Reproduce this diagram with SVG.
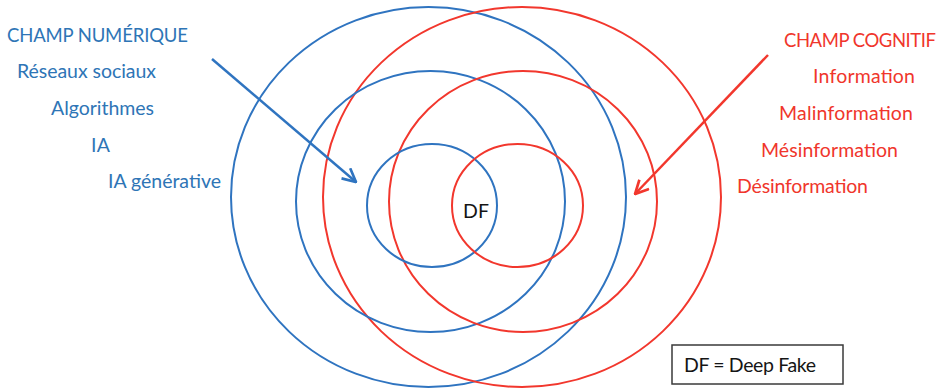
<svg xmlns="http://www.w3.org/2000/svg" width="945" height="389" viewBox="0 0 945 389">
<style>
.b{fill:none;stroke:#2F74C0;stroke-width:2}
.r{fill:none;stroke:#F2372D;stroke-width:2}
.tb{font-family:Lato,"Liberation Sans",sans-serif;font-size:19.5px;fill:#2E75B6}
.tr{font-family:Lato,"Liberation Sans",sans-serif;font-size:19.5px;fill:#F0362C}
.h{font-size:18.5px}
.tk{font-family:Lato,"Liberation Sans",sans-serif;font-size:19.5px;fill:#151515}
.ab{fill:none;stroke:#2F74C0;stroke-width:2.5}
.ar{fill:none;stroke:#F2372D;stroke-width:2.5}
</style>
<defs>
<marker id="mb" viewBox="0 0 12 12" refX="11" refY="6" markerWidth="16" markerHeight="16" markerUnits="userSpaceOnUse" orient="auto">
<path d="M1,1 L11,6 L1,11" fill="none" stroke="#2F74C0" stroke-width="2"/>
</marker>
<marker id="mr" viewBox="0 0 12 12" refX="11" refY="6" markerWidth="16" markerHeight="16" markerUnits="userSpaceOnUse" orient="auto">
<path d="M1,1 L11,6 L1,11" fill="none" stroke="#F2372D" stroke-width="2"/>
</marker>
</defs>
<rect width="945" height="389" fill="#fff"/>
<g id="blue-outer"><ellipse class="b" cx="428.5" cy="197" rx="197.5" ry="190"/></g>
<g id="red-outer"><ellipse class="r" cx="522" cy="197" rx="199" ry="190"/></g>
<g id="blue-middle"><ellipse class="b" cx="430.5" cy="201.5" rx="134.5" ry="130.5"/></g>
<g id="red-middle"><ellipse class="r" cx="523" cy="201.5" rx="134" ry="130.5"/></g>
<g id="blue-inner"><ellipse class="b" cx="432" cy="205.5" rx="65" ry="61.5"/></g>
<g id="red-inner"><ellipse class="r" cx="517.5" cy="205.5" rx="65.5" ry="61.5"/></g>
<g id="df"><text class="tk" x="476" y="218" text-anchor="middle" font-size="19px">DF</text></g>
<g id="connectors">
<line class="ab" x1="212" y1="59" x2="356" y2="182" marker-end="url(#mb)"/>
<line class="ar" x1="768" y1="55" x2="635" y2="194" marker-end="url(#mr)"/>
</g>
<g id="champ-numerique">
<text class="tb h" x="7" y="42" textLength="181">CHAMP NUMÉRIQUE</text>
<text class="tb" x="17" y="78" textLength="139">Réseaux sociaux</text>
<text class="tb" x="51" y="115" textLength="103">Algorithmes</text>
<text class="tb" x="91" y="152" textLength="19">IA</text>
<text class="tb" x="108" y="188" textLength="113">IA générative</text>
</g>
<g id="champ-cognitif">
<text class="tr h" x="784" y="47" textLength="152">CHAMP COGNITIF</text>
<text class="tr" x="813" y="83" textLength="102">Information</text>
<text class="tr" x="779" y="120" textLength="134">Malinformation</text>
<text class="tr" x="761" y="157" textLength="137">Mésinformation</text>
<text class="tr" x="737" y="193" textLength="131">Désinformation</text>
</g>
<g id="legend">
<rect x="672" y="345" width="171" height="39" fill="#fff" stroke="#3a3a3a" stroke-width="1.5"/>
<text class="tk" x="684" y="372" textLength="132">DF = Deep Fake</text>
</g>
</svg>
